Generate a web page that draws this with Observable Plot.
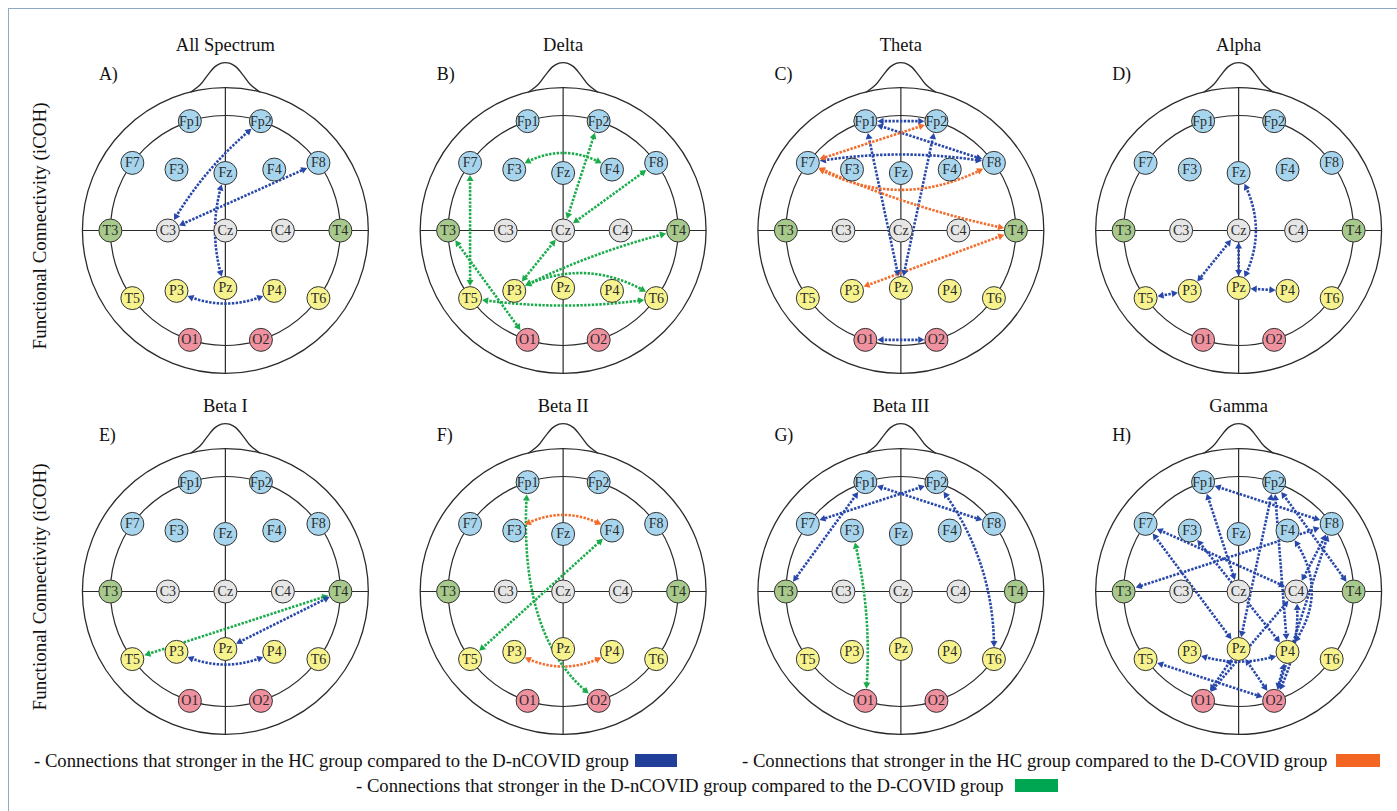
<!DOCTYPE html>
<html><head><meta charset="utf-8">
<script src="https://cdn.jsdelivr.net/npm/d3@7"></script>
<script src="https://cdn.jsdelivr.net/npm/@observablehq/plot@0.6"></script>
<style>
body{margin:0;background:#fff;font-family:"Liberation Serif","Times New Roman",serif;}
#wrap{position:relative;width:1397px;height:811px;overflow:hidden;}
#frame{position:absolute;left:8px;top:8px;width:1500px;height:900px;border-left:1px solid #8fa8c8;border-top:1px solid #8fa8c8;pointer-events:none;}
#chart{position:absolute;left:0;top:0;}
.leg{position:absolute;font-size:18.7px;line-height:19px;white-space:nowrap;color:#111;}
.box{position:absolute;height:13px;}
</style></head><body>
<div id="wrap"><div id="frame"></div><div id="chart"></div><div id="legend"></div></div>
<script>
// ---------- DATA ----------
// 10-20 electrode layout (units of the inner circle radius, y pointing down / towards the back)
const electrodes = ["Fp1","Fp2","F7","F3","Fz","F4","F8","T3","C3","Cz","C4","T4","T5","P3","Pz","P4","T6","O1","O2"];
const electrodeX = [-0.309,0.309,-0.809,-0.425,0,0.425,0.809,-1,-0.5,0,0.5,1,-0.809,-0.425,0,0.425,0.809,-0.309,0.309];
const electrodeY = [-0.951,-0.951,-0.588,-0.53,-0.5,-0.53,-0.588,0,0,0,0,0,0.588,0.525,0.5,0.525,0.588,0.951,0.951];
const electrodeRegion = ["frontal","frontal","frontal","frontal","frontal","frontal","frontal",
  "temporal","central","central","central","temporal",
  "parietal","parietal","parietal","parietal","parietal","occipital","occipital"];
const regions = ["frontal","temporal","central","parietal","occipital"];
const regionColors = ["#a7d5ee","#a7c98c","#e6e6e6","#f6f28d","#f0919f"];

const panelTitles = ["All Spectrum","Delta","Theta","Alpha","Beta I","Beta II","Beta III","Gamma"];
const panelLetters = ["A)","B)","C)","D)","E)","F)","G)","H)"];
const yLabel = "Functional Connectivity (iCOH)";

const comparisonLabels = [
  "- Connections that stronger in the HC group compared to the D-nCOVID group",
  "- Connections that stronger in the HC group compared to the D-COVID group",
  "- Connections that stronger in the D-nCOVID group compared to the D-COVID group"
];
const comparisonColors = ["#2847aa","#f36c2b","#1aac4a"];
const legendColors = ["#213f99","#f26522","#00a651"];

// connections: [from, to, comparison index, bend (+ = bulges to the right of travel), skew of the bulge along the chord]
const connAllSpectrum = [["C3","Fp2",0,-0.05],["C3","F8",0,0],["Fz","Pz",0,0.09],["P3","P4",0,0.13]];
const connDelta = [["F3","F4",2,-0.17],["Cz","Fp2",2,0],["Cz","F8",2,0],["F7","T5",2,0],["T3","O1",2,0],
  ["Cz","P3",2,0],["P3","T4",2,-0.03],["P3","T6",2,-0.15],["T5","T6",2,0.04]];
const connTheta = [["Fp1","Fp2",0,0],["Fp1","F8",0,0],["F7","F8",0,-0.045],["Fp1","Pz",0,0],["Fp2","Pz",0,0],["O1","O2",0,0],
  ["Fp2","F7",1,0],["F7","F8",1,0.145],["F7","T4",1,0.03],["P3","T4",1,0]];
const connAlpha = [["Fz","Pz",0,-0.15],["Cz","Pz",0,0],["Cz","P3",0,0],["T5","P3",0,0],["Pz","P4",0,0]];
const connBeta1 = [["T5","T4",2,0],["Pz","T4",0,0],["P3","P4",0,0.13]];
const connBeta2 = [["F3","F4",1,-0.16],["P3","P4",1,0.15],["T5","F4",2,0],["Fp1","O2",2,0.135,0.15]];
const connBeta3 = [["Fp1","T3",0,0],["Fp2","F7",0,0],["Fp1","F8",0,0],["Fp2","T6",0,-0.09],["F3","O1",2,-0.045]];
const connGamma = [["Fp1","F8",0,0],["Fp1","Cz",0,0],["Fp2","Pz",0,0],["Fp2","P4",0,0],["Fp2","T4",0,0],
  ["F7","Pz",0,0],["F7","C4",0,0],["F3","P4",0,0],["F8","T3",0,0],["F8","C4",0,0],["F8","O2",0,0],
  ["F4","P4",0,-0.2],["C4","O1",0,0],["C4","O2",0,-0.08],["P4","O2",0,0],["Pz","O1",0,0],["Pz","O2",0,0],
  ["T5","O2",0,0],["P3","P4",0,0.1]];
const panelConnections = [connAllSpectrum,connDelta,connTheta,connAlpha,connBeta1,connBeta2,connBeta3,connGamma];

// head outline
const headOuter = 1.243;
const noseX = [-0.30,-0.217,-0.159,-0.09,-0.035,0,0.035,0.09,0.159,0.217,0.30];
const noseY = [-1.205,-1.27,-1.345,-1.425,-1.455,-1.46,-1.455,-1.425,-1.345,-1.27,-1.205];

// ---------- LAYOUT ----------
const SERIF = "Liberation Serif, Times New Roman, serif";
const W = 1397, H = 745;
const mL = 56, mR = -10, mT = 49.5, mB = -26.5;
const k = 115; // pixels per unit
const cellW = (W - mL - mR) / 4, cellH = (H - mT - mB) / 2;
const xh = cellW / (2 * k), yh = cellH / (2 * k);
const elecR = 11.5;

const panels = panelTitles.map((title, i) => ({i, title, letter: panelLetters[i], col: i % 4, row: Math.floor(i / 4)}));
const elecPos = new Map(electrodes.map((e, j) => [e, [electrodeX[j], electrodeY[j]]]));
const elecData = panels.flatMap(p => electrodes.map((e, j) => ({
  col: p.col, row: p.row, name: e, x: electrodeX[j], y: electrodeY[j],
  fill: regionColors[regions.indexOf(electrodeRegion[j])]
})));
const noseData = panels.flatMap(p => noseX.map((x, j) => ({col: p.col, row: p.row, id: p.i, x, y: noseY[j]})));

const tipDist = (elecR + 0.9) / k;
const lineDist = tipDist + 3 / k;
const headBack = 3.6 / k;
const lines = [], heads = [];
panelConnections.forEach((conns, pi) => {
  const p = panels[pi];
  conns.forEach(([a, b, c, bend, skew = 0], ci) => {
    const [ax, ay] = elecPos.get(a), [bx, by] = elecPos.get(b);
    const dx = bx - ax, dy = by - ay, L = Math.hypot(dx, dy);
    const nx = -dy / L, ny = dx / L;
    const cx = ax + dx * (0.5 + skew) + nx * 2 * bend * L, cy = ay + dy * (0.5 + skew) + ny * 2 * bend * L;
    const N = 300;
    const pts = d3.range(N + 1).map(s => { const t = s / N, u = 1 - t; return [u*u*ax + 2*u*t*cx + t*t*bx, u*u*ay + 2*u*t*cy + t*t*by]; });
    const dA = q => Math.hypot(q[0] - ax, q[1] - ay), dB = q => Math.hypot(q[0] - bx, q[1] - by);
    const i0 = pts.findIndex(q => dA(q) >= tipDist);
    let i1 = N; while (i1 > 0 && dB(pts[i1]) < tipDist) i1--;
    const color = comparisonColors[c];
    const id = pi + "-" + ci;
    pts.filter(q => dA(q) >= lineDist && dB(q) >= lineDist)
      .forEach(q => lines.push({col: p.col, row: p.row, id, x: q[0], y: q[1], color}));
    const addHead = (tip, prev) => {
      const ux = tip[0] - prev[0], uy = tip[1] - prev[1], ul = Math.hypot(ux, uy);
      const ex = ux / ul, ey = uy / ul;
      heads.push({col: p.col, row: p.row, x: tip[0] - ex * headBack, y: tip[1] - ey * headBack,
        angle: Math.atan2(ex, -ey) * 180 / Math.PI, color});
    };
    addHead(pts[i1], pts[Math.max(0, i1 - 6)]);
    addHead(pts[i0], pts[Math.min(N, i0 + 6)]);
  });
});

const ink = "#2a2a2a";
const fxy = {fx: "col", fy: "row"};
const chart = Plot.plot({
  width: W, height: H,
  marginLeft: mL, marginRight: mR, marginTop: mT, marginBottom: mB,
  x: {domain: [-xh, xh], axis: null},
  y: {domain: [yh, -yh], axis: null},
  fx: {domain: [0, 1, 2, 3], padding: 0, round: false, axis: null},
  fy: {domain: [0, 1], padding: 0, round: false, axis: null},
  color: {type: "identity"},
  style: {fontFamily: SERIF, background: "transparent", overflow: "visible"},
  marks: [
    Plot.dot(panels, {...fxy, x: () => 0, y: () => 0, r: headOuter * k, stroke: ink, strokeWidth: 1.3, fill: "none"}),
    Plot.line(noseData, {...fxy, x: "x", y: "y", z: "id", curve: "catmull-rom", stroke: ink, strokeWidth: 1.3}),
    Plot.link(panels, {...fxy, x1: () => -headOuter, x2: () => headOuter, y1: () => 0, y2: () => 0, stroke: ink, strokeWidth: 1.2}),
    Plot.link(panels, {...fxy, x1: () => 0, x2: () => 0, y1: () => -headOuter, y2: () => headOuter, stroke: ink, strokeWidth: 1.2}),
    Plot.dot(panels, {...fxy, x: () => 0, y: () => 0, r: k, stroke: ink, strokeWidth: 1.2, fill: "none"}),
    Plot.line(lines, {...fxy, x: "x", y: "y", z: "id", stroke: "color", strokeWidth: 2.6, strokeDasharray: "2.4,1.4", strokeLinecap: "butt"}),
    Plot.dot(elecData, {...fxy, x: "x", y: "y", r: elecR, fill: "fill", stroke: "#333", strokeWidth: 1}),
    Plot.text(elecData, {...fxy, x: "x", y: "y", text: "name", fontSize: 14, fill: "#2b2b2b", fontFamily: SERIF}),
    Plot.dot(heads, {...fxy, x: "x", y: "y", symbol: "triangle", r: 2.6, rotate: "angle", fill: "color", stroke: "none"}),
    Plot.text(panels, {...fxy, x: () => 0, y: () => -1.61, text: "title", fontSize: 18.5, fill: "#111", fontFamily: SERIF}),
    Plot.text(panels, {...fxy, x: () => -1.10, y: () => -1.36, text: "letter", textAnchor: "start", fontSize: 18, fill: "#111", fontFamily: SERIF}),
    Plot.text(panels.filter(p => p.col === 0), {...fxy, x: () => -1.61, y: () => -0.04, text: () => yLabel, rotate: -90, fontSize: 19, fill: "#111", fontFamily: SERIF})
  ]
});
document.getElementById("chart").appendChild(chart);

// legend (below the chart)
const legendItems = [
  {left: 34, top: 751, boxLeft: 635, boxW: 42},
  {left: 742, top: 751, boxLeft: 1336, boxW: 44},
  {left: 356, top: 776, boxLeft: 1015, boxW: 43}
];
const legend = document.getElementById("legend");
legendItems.forEach((it, i) => {
  const t = document.createElement("div");
  t.className = "leg"; t.textContent = comparisonLabels[i];
  t.style.left = it.left + "px"; t.style.top = it.top + "px";
  legend.appendChild(t);
  const b = document.createElement("div");
  b.className = "box"; b.style.left = it.boxLeft + "px"; b.style.top = (it.top + 3) + "px";
  b.style.width = it.boxW + "px"; b.style.background = legendColors[i];
  legend.appendChild(b);
});
</script>
</body></html>
